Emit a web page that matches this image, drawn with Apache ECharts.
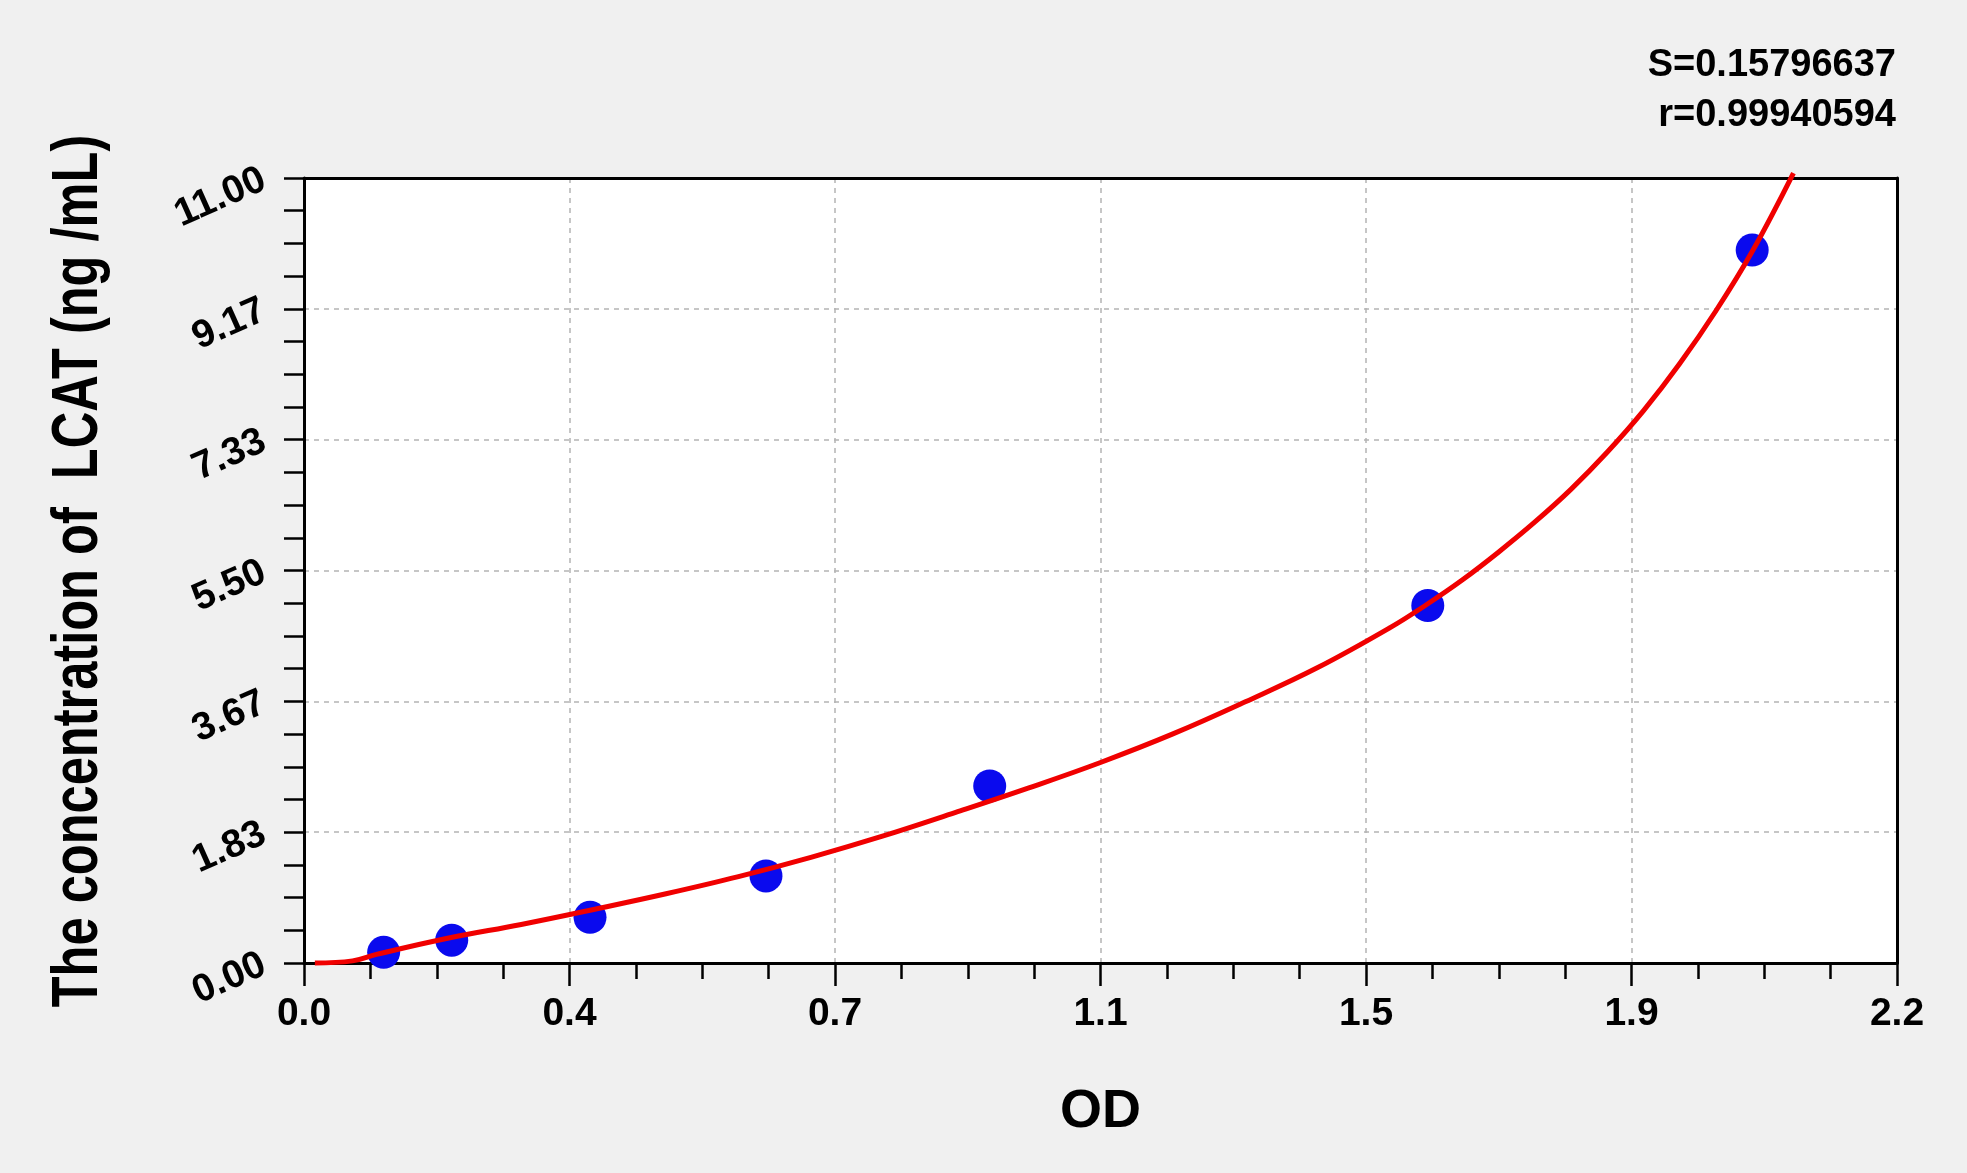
<!DOCTYPE html>
<html>
<head>
<meta charset="utf-8">
<script src="https://cdn.jsdelivr.net/npm/echarts@6/dist/echarts.min.js"></script>
<style>
  html, body { margin: 0; padding: 0; background: #f0f0f0; }
  #chart { width: 1967px; height: 1173px; }
</style>
</head>
<body>
<div id="chart"></div>
<script>
// Standard points (OD, concentration)
const odValues = [0.110, 0.204, 0.395, 0.638, 0.947, 1.552, 2.000];
const concValues = [0.15, 0.32, 0.64, 1.22, 2.48, 5.01, 9.99];

// Fitted curve
const curveOD = [0.015, 0.067, 0.10, 0.20, 0.30, 0.40, 0.50, 0.60, 0.70, 0.80, 0.90, 1.00, 1.10, 1.20, 1.30, 1.40, 1.50, 1.55, 1.60, 1.65, 1.70, 1.75, 1.80, 1.85, 1.90, 1.95, 2.00, 2.057];
const curveConc = [0.00, 0.03, 0.12, 0.35, 0.54, 0.75, 0.97, 1.21, 1.48, 1.78, 2.11, 2.45, 2.81, 3.21, 3.66, 4.14, 4.70, 5.02, 5.37, 5.76, 6.18, 6.64, 7.16, 7.74, 8.40, 9.14, 9.97, 11.07];

// Tick labels
const xTickLabels = ['0.0', '0.4', '0.7', '1.1', '1.5', '1.9', '2.2'];
const yTickLabels = ['0.00', '1.83', '3.67', '5.50', '7.33', '9.17', '11.00'];

// Fit statistics text
const statLines = ['S=0.15796637', 'r=0.99940594'];

const xTitle = 'OD';
const yTitle = 'The concentration of  LCAT (ng /mL)';

const xMax = 2.2, yMax = 11;
const xInterval = xMax / 6, yInterval = yMax / 6;

const FONT = '"Liberation Sans", Arial, sans-serif';
const gridSplit = { show: true, showMinLine: false, showMaxLine: false, lineStyle: { color: '#b4b4b4', width: 1.5, type: [5, 5] } };
const borderAxisLine = { show: true, onZero: false, lineStyle: { color: '#000', width: 3 } };

const chart = echarts.init(document.getElementById('chart'));
chart.setOption({
  animation: false,
  backgroundColor: '#f0f0f0',
  grid: {
    left: 304, right: 70, top: 178, bottom: 210,
    show: true, backgroundColor: '#ffffff', borderWidth: 0
  },
  xAxis: [{
    type: 'value', min: 0, max: xMax, interval: xInterval, position: 'bottom',
    name: xTitle, nameLocation: 'middle', nameGap: 122,
    nameTextStyle: { fontFamily: FONT, fontWeight: 'bold', fontSize: 54, color: '#000' },
    axisLine: borderAxisLine,
    axisTick: { show: true, length: 23, lineStyle: { color: '#000', width: 2.5 } },
    minorTick: { show: true, splitNumber: 4, length: 16, lineStyle: { color: '#000', width: 2.5 } },
    axisLabel: {
      margin: 32, fontFamily: FONT, fontWeight: 'bold', fontSize: 39, color: '#000',
      formatter: v => xTickLabels[Math.round(v / xInterval)]
    },
    splitLine: gridSplit
  }, {
    type: 'value', min: 0, max: xMax, interval: xInterval, position: 'top',
    axisLine: borderAxisLine, axisTick: { show: false }, axisLabel: { show: false }, splitLine: { show: false }
  }],
  yAxis: [{
    type: 'value', min: 0, max: yMax, interval: yInterval, position: 'left',
    axisLine: borderAxisLine,
    axisTick: { show: true, length: 20, lineStyle: { color: '#000', width: 2.5 } },
    minorTick: { show: true, splitNumber: 4, length: 20, lineStyle: { color: '#000', width: 2.5 } },
    axisLabel: {
      margin: 40, rotate: 24, fontFamily: FONT, fontWeight: 'bold', fontSize: 39, color: '#000',
      formatter: v => yTickLabels[Math.round(v / yInterval)]
    },
    splitLine: gridSplit
  }, {
    type: 'value', min: 0, max: yMax, interval: yInterval, position: 'right',
    axisLine: borderAxisLine, axisTick: { show: false }, axisLabel: { show: false }, splitLine: { show: false }
  }],
  graphic: [
    ...statLines.map((t, i) => ({
      type: 'text', x: 1896, y: 66 + i * 50, z: 10,
      style: {
        text: t, align: 'right', verticalAlign: 'middle',
        fontFamily: FONT, fontWeight: 'bold', fontSize: 38, fill: '#000'
      }
    })),
    {
      type: 'text', x: 79, y: 571, rotation: Math.PI / 2, scaleX: 0.79, z: 10,
      style: {
        text: yTitle, align: 'center', verticalAlign: 'middle',
        fontFamily: FONT, fontWeight: 'bold', fontSize: 64, fill: '#000'
      }
    }
  ],
  series: [
    {
      type: 'scatter', z: 2,
      symbol: 'circle', symbolSize: 33,
      itemStyle: { color: '#0a0aee', opacity: 1 },
      data: odValues.map((x, i) => [x, concValues[i]])
    },
    {
      type: 'line', z: 3, clip: false,
      showSymbol: false, symbol: 'none', smooth: 0.4,
      lineStyle: { color: '#f00000', width: 5 },
      data: curveOD.map((x, i) => [x, curveConc[i]])
    }
  ]
});
</script>
</body>
</html>
